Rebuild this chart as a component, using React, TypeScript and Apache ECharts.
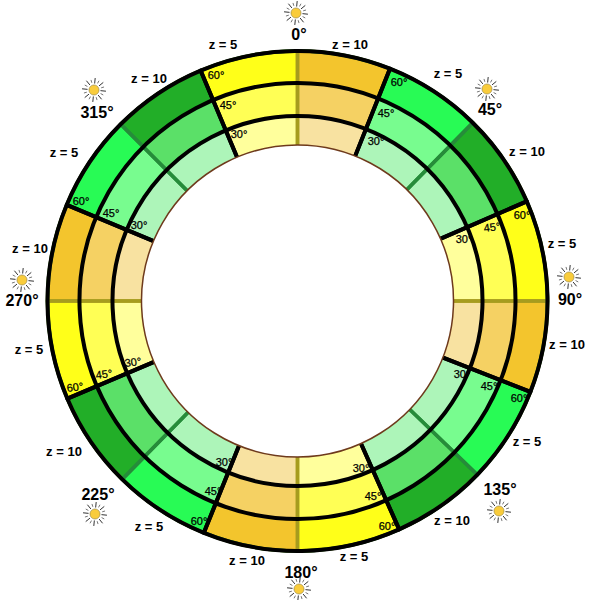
import React, { useEffect, useRef } from "react";
import * as echarts from "echarts";

// Sixteen sectors, clockwise from compass 337.2 deg
const sectorSpans = [22.8, 21.7, 22.8, 22, 23.5, 21.3, 22.7, 22, 24, 22, 22.5, 22.5, 23, 22.6, 22.4, 22.2];
const sectorGroups = ["y5", "o10", "g5", "d10", "y5", "o10", "g5", "d10", "y5", "o10", "g5", "d10", "y5", "o10", "g5", "d10"];
const ringRadii: [number, number][] = [[218, 250], [185, 218], [156, 185]];
const ringLabels = ["60°", "45°", "30°"];
const ringColors: Record<string, string[]> = {
  y5: ["#FFFF19", "#FFFF55", "#FFFF9C"],
  o10: ["#F3C52D", "#F5D163", "#F8E2A1"],
  g5: ["#28FB55", "#78FC8F", "#ADF5B9"],
  d10: ["#22AE28", "#5BE068", "#ADF5B9"],
};

const directionTexts = ["0°", "45°", "90°", "135°", "180°", "225°", "270°", "315°"];
const directionSpots = [[299, 34], [490, 109], [570, 299], [500, 489], [301, 572], [98, 494], [22, 300], [97, 112]];
const sunSpots = [[296, 13], [487, 89], [569, 277], [499, 511], [299, 589], [95, 514], [22, 280], [94, 90]];

const zTexts = ["z = 5", "z = 10", "z = 5", "z = 10", "z = 5", "z = 10", "z = 5", "z = 10", "z = 5", "z = 10", "z = 5", "z = 10", "z = 5", "z = 10", "z = 5", "z = 10"];
const zSpots = [[223, 44], [350, 44], [448, 73], [527, 151], [562, 243], [567, 344], [527, 441], [452, 520], [354, 556], [247, 560], [149, 526], [64, 451], [29, 349], [30, 248], [64, 152], [149, 78]];

// elevation labels: [ring index, x, y, rotation in degrees]
const elevationSpots = [
  [0, 216, 75, 0], [1, 228, 105, 0], [2, 239, 134, 0],
  [0, 399, 82, 0], [1, 386, 113, 0], [2, 376, 141, 0],
  [0, 522, 215, 0], [1, 492, 227, 8], [2, 464, 239, 0],
  [0, 519, 398, 0], [1, 489, 386, 0], [2, 462, 374, 0],
  [0, 387, 526, 0], [1, 373, 496, 0], [2, 361, 468, 0],
  [0, 199, 521, 0], [1, 213, 491, 0], [2, 224, 462, 0],
  [0, 75, 387, 8], [1, 104, 374, 8], [2, 133, 362, 8],
  [0, 81, 201, 0], [1, 111, 213, 0], [2, 139, 225, 0],
];

const CENTER = [297.5, 301];
const FONT = '"Liberation Sans", Arial, sans-serif';

function piece(name: string, radius: any, startAngle: number, data: any[], z: number) {
  return {
    type: "pie", name, center: CENTER, radius, startAngle, clockwise: true, silent: true, z,
    label: { show: false }, labelLine: { show: false }, emphasis: { disabled: true },
    data,
  };
}

function sun(x: number, y: number) {
  const rays: any[] = [];
  for (let i = 0; i < 16; i++) {
    const a = (i * Math.PI) / 8 + 0.1;
    const r1 = i % 2 ? 7.5 : 6.5;
    const r2 = i % 2 ? 10.5 : 12;
    rays.push({
      type: "line",
      shape: { x1: x + r1 * Math.cos(a), y1: y + r1 * Math.sin(a), x2: x + r2 * Math.cos(a), y2: y + r2 * Math.sin(a) },
      style: { stroke: i % 2 ? "#777" : "#333", lineWidth: 1 },
      silent: true,
    });
  }
  rays.push({
    type: "circle",
    shape: { cx: x, cy: y, r: 5 },
    style: { fill: "#F9CC3C", stroke: "#8a7a40", lineWidth: 0.6 },
    silent: true,
  });
  return { type: "group", children: rays };
}

function text(s: string, x: number, y: number, font: string, rot = 0, thick = 0) {
  return {
    type: "text", x, y, rotation: (rot * Math.PI) / 180, silent: true, z: 50,
    style: { text: s, font, fill: "#000", stroke: thick ? "#000" : undefined, lineWidth: thick, align: "center", verticalAlign: "middle" },
  };
}

export default function App() {
  const ref = useRef<HTMLDivElement>(null);
  useEffect(() => {
    const chart = echarts.init(ref.current!, undefined, { renderer: "svg" });
    const series: any[] = [];
    const firstCompass = 337.2;
    const startOf = (compass: number) => 90 - compass;
    ringRadii.forEach((radius, ring) => {
      series.push(piece(`ring${ring}`, radius, startOf(firstCompass),
        sectorSpans.map((value, i) => ({ value, itemStyle: { color: ringColors[sectorGroups[i]][ring], borderWidth: 0 } })), 1));
    });
    const lineItem = (value: number, c: string, w: number) => ({
      value, itemStyle: { color: "rgba(0,0,0,0)", borderColor: c, borderWidth: w },
    });
    const blackSpans: number[] = [];
    for (let i = 0; i < sectorSpans.length; i += 2) blackSpans.push(sectorSpans[i] + sectorSpans[i + 1]);
    // warm splits begin at compass 0, green splits at the end of the third sector
    const warmSpans: number[] = [];
    const greenSpans: number[] = [];
    for (let i = 1; i < 16; i += 4) warmSpans.push(sectorSpans[i] + sectorSpans[i + 1] + sectorSpans[i + 2] + sectorSpans[(i + 3) % 16]);
    for (let i = 3; i < 16; i += 4) greenSpans.push(sectorSpans[i] + sectorSpans[(i + 1) % 16] + sectorSpans[(i + 2) % 16] + sectorSpans[(i + 3) % 16]);
    const greenStart = firstCompass + sectorSpans[0] + sectorSpans[1] + sectorSpans[2];
    series.push(piece("splitWarm", [150, 250], startOf(firstCompass + sectorSpans[0]), warmSpans.map((v) => lineItem(v, "#A69C1E", 3.5)), 2));
    series.push(piece("splitGreen", [150, 250], startOf(greenStart), greenSpans.map((v) => lineItem(v, "#268C3A", 3.5)), 2));
    series.push(piece("circleMid", [0, 218], 90, [lineItem(1, "#000", 4)], 3));
    series.push(piece("circleIn", [0, 185], 90, [lineItem(1, "#000", 4)], 3));
    series.push(piece("borders", [150, 250], startOf(firstCompass), blackSpans.map((v) => lineItem(v, "#000", 4)), 3));
    series.push(piece("hole", [0, 156], 90, [{ value: 1, itemStyle: { color: "#fff", borderColor: "#6E3A1C", borderWidth: 1.5 } }], 4));

    const graphic: any[] = [];
    sunSpots.forEach(([x, y]) => graphic.push(sun(x, y)));
    directionTexts.forEach((t, i) => graphic.push(text(t, directionSpots[i][0], directionSpots[i][1], `bold 16px ${FONT}`)));
    zTexts.forEach((t, i) => graphic.push(text(t, zSpots[i][0], zSpots[i][1], `bold 13px ${FONT}`)));
    elevationSpots.forEach(([ring, x, y, rot]) => graphic.push(text(ringLabels[ring], x, y, `11px ${FONT}`, rot, 0.25)));

    chart.setOption({ animation: false, backgroundColor: "#fff", series, graphic });
    return () => chart.dispose();
  }, []);
  return <div ref={ref} style={{ position: "absolute", left: 0, top: 0, width: 600, height: 600 }} />;
}
